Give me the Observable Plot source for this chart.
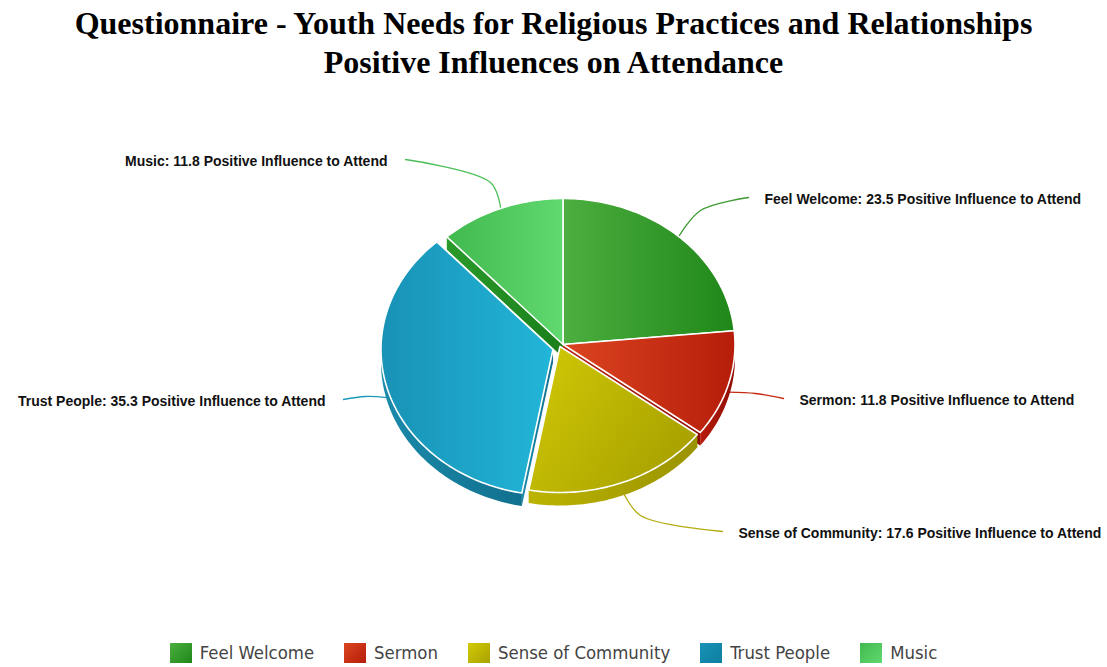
<!DOCTYPE html>
<html><head><meta charset="utf-8">
<script src="https://cdn.jsdelivr.net/npm/d3@7"></script>
<script src="https://cdn.jsdelivr.net/npm/@observablehq/plot@0.6"></script>
<style>
html,body{margin:0;padding:0;background:#fff;}
body{width:1107px;height:667px;overflow:hidden;position:relative;}
#title{height:90px;box-sizing:border-box;padding-top:4px;text-align:center;font-family:"Liberation Serif","Times New Roman",serif;font-weight:bold;font-size:32px;line-height:39px;color:#000;white-space:nowrap;}
#chart{height:540px;}
#legend{height:37px;box-sizing:border-box;padding-top:8px;display:flex;justify-content:center;align-items:center;gap:30px;font-family:"DejaVu Sans Condensed","DejaVu Sans",sans-serif;font-stretch:condensed;font-size:18.4px;color:#444;}
.item{display:flex;align-items:center;gap:8px;}
.sw{width:22px;height:20px;}
</style></head><body>
<div id="title">Questionnaire - Youth Needs for Religious Practices and Relationships<br>Positive Influences on Attendance</div>
<div id="chart"></div>
<div id="legend"></div>
<script>
// ---- data ----
const categories = ["Feel Welcome", "Sermon", "Sense of Community", "Trust People", "Music"];
const values = [23.5, 11.8, 17.6, 35.3, 11.8];
const valueSuffix = "Positive Influence to Attend";
// colours (light, dark) for slice tops and side walls, leader lines
const topLight = ["#4caf3f", "#dc4520", "#d2ca06", "#1892b6", "#42b94e"];
const topDark  = ["#1f8719", "#b51d0a", "#a9a200", "#22b6d8", "#60d970"];
const wallLight = ["#2a8f22", "#b81c0c", "#bcb400", "#1a8aab", "#2a9a2a"];
const wallDark  = ["#1b7a16", "#8e0c04", "#9a9300", "#11708e", "#1b7f1b"];
const leaderColors = ["#3a9a30", "#c42a12", "#b3ac10", "#1a9ab8", "#4cbf58"];

// ---- layout ----
const W = 1107, H = 540, Y0 = 90;
const cx = 562.5, cy = 344, rx = 172, ry = 146, depth = 13;
const explode = [[0, 0], [0, 0], [-3, 2], [-10, 5], [0, 0]];
// leader line elbow and end points, label side
const leaderElbow = [[700, 210], [755, 393], [640, 515], [365, 396], [490, 182]];
const leaderEnd   = [[748, 197], [783, 398], [722, 531], [343, 399], [405, 159]];
const labelSide   = ["right", "right", "right", "left", "left"];

const total = d3.sum(values);
let acc = 0;
const slices = values.map((v, i) => {
  const a0 = acc / total * 2 * Math.PI; acc += v;
  const a1 = acc / total * 2 * Math.PI;
  return {i, a0, a1, ox: explode[i][0], oy: explode[i][1]};
});
const pt = (s, a, dz = 0) => ({x: cx + s.ox + rx * Math.sin(a), y: cy + s.oy - ry * Math.cos(a) + dz});
const arc = (s, a0, a1, dz = 0) => {
  const n = Math.max(2, Math.ceil((a1 - a0) / 0.02));
  return d3.range(n + 1).map(k => pt(s, a0 + (a1 - a0) * k / n, dz));
};
const center = (s, dz = 0) => ({x: cx + s.ox, y: cy + s.oy + dz});

const walls = [];
slices.forEach(s => {
  for (const a of [s.a0, s.a1]) {
    const p = pt(s, a), q = pt(s, a, depth);
    walls.push({i: s.i, pts: [center(s), p, q, center(s, depth), center(s)]});
  }
});
slices.forEach(s => {
  const lo = Math.max(s.a0, Math.PI / 2), hi = Math.min(s.a1, 3 * Math.PI / 2);
  if (lo < hi) {
    const upper = arc(s, lo, hi), lower = arc(s, lo, hi, depth).reverse();
    walls.push({i: s.i, pts: [...upper, ...lower, upper[0]]});
  }
});
const tops = slices.map(s => ({i: s.i, pts: [center(s), ...arc(s, s.a0, s.a1), center(s)]}));

const leaders = slices.map(s => {
  const m = (s.a0 + s.a1) / 2;
  const a = pt(s, m, depth * (Math.cos(m) < 0 ? 0.6 : 0));
  return {i: s.i, pts: [a, {x: leaderElbow[s.i][0], y: leaderElbow[s.i][1]}, {x: leaderEnd[s.i][0], y: leaderEnd[s.i][1]}]};
});
const labels = slices.map(s => {
  const e = leaderEnd[s.i], right = labelSide[s.i] === "right";
  return {x: e[0] + (right ? 16 : -18), y: e[1] + 2, anchor: right ? "start" : "end",
          text: `${categories[s.i]}: ${values[s.i]} ${valueSuffix}`};
});

const chart = Plot.plot({
  width: W, height: H, margin: 0,
  x: {domain: [0, W], range: [0, W], axis: null},
  y: {domain: [Y0, Y0 + H], range: [0, H], axis: null},
  marks: [
    ...leaders.map(l => Plot.line(l.pts, {x: "x", y: "y", curve: "catmull-rom", stroke: leaderColors[l.i], strokeWidth: 1.3})),
    ...walls.map(w => Plot.line(w.pts, {x: "x", y: "y", fill: `url(#wall-${w.i})`, stroke: "none"})),
    ...tops.map(t => Plot.line(t.pts, {x: "x", y: "y", fill: `url(#top-${t.i})`, stroke: "white", strokeWidth: 1.6, strokeLinejoin: "round"})),
    Plot.text(labels.filter(d => d.anchor === "start"), {x: "x", y: "y", text: "text", textAnchor: "start", fontWeight: "bold", fontSize: 14, fill: "#111"}),
    Plot.text(labels.filter(d => d.anchor === "end"), {x: "x", y: "y", text: "text", textAnchor: "end", fontWeight: "bold", fontSize: 14, fill: "#111"})
  ]
});
chart.style.fontFamily = '"Liberation Sans",Arial,sans-serif';
const defs = d3.select(chart).insert("defs", ":first-child");
categories.forEach((c, i) => {
  const g = defs.append("linearGradient").attr("id", `top-${i}`).attr("x1", 0).attr("y1", 0).attr("x2", 1).attr("y2", i === 2 ? 0.6 : 0);
  g.append("stop").attr("offset", "0%").attr("stop-color", topLight[i]);
  g.append("stop").attr("offset", "100%").attr("stop-color", topDark[i]);
  const w = defs.append("linearGradient").attr("id", `wall-${i}`).attr("x1", 0).attr("y1", 0).attr("x2", 1).attr("y2", 0);
  w.append("stop").attr("offset", "0%").attr("stop-color", wallLight[i]);
  w.append("stop").attr("offset", "100%").attr("stop-color", wallDark[i]);
});
document.getElementById("chart").appendChild(chart);

const legend = d3.select("#legend");
categories.forEach((c, i) => {
  const it = legend.append("div").attr("class", "item");
  it.append("div").attr("class", "sw").style("background", `linear-gradient(135deg, ${topLight[i]}, ${i === 3 ? "#0f7fa0" : topDark[i]})`);
  it.append("span").text(c);
});
</script>
</body></html>
